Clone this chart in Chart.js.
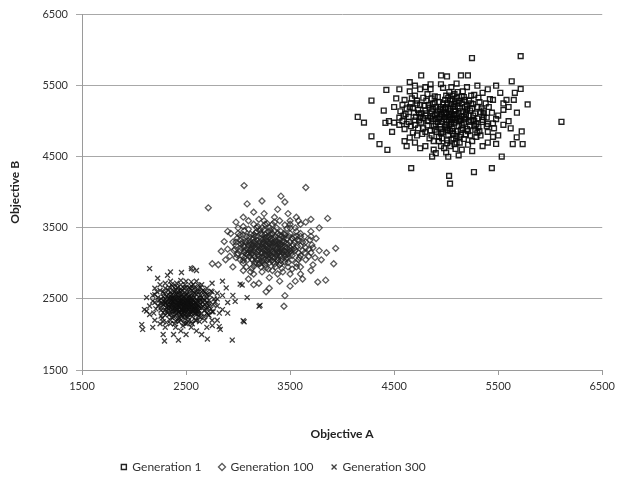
<!DOCTYPE html>
<html lang="en">
<head>
<meta charset="UTF-8">
<title>Objective A vs Objective B</title>
<style>
  body { margin: 0; background: #fff; }
  canvas { display: block; }
</style>
</head>
<body>
<canvas id="myChart" width="620" height="483"></canvas>
<script src="https://cdn.jsdelivr.net/npm/chart.js"></script>
<script>
// tick values shared by both axes
var axisTicks = [1500, 2500, 3500, 4500, 5500, 6500];

var seriesNames = ['Generation 1', 'Generation 100', 'Generation 300'];

// [objective A, objective B]
var gen1 = [
  [5248,5889],[5716,5916],[6108,4992],[4282,5291],[4282,4788],[4359,4679],[4435,4598],[4416,4978],[4425,5440],[4664,4340],
  [5037,4122],[5028,4231],[5267,4285],[4865,4503],[5783,5236],[5630,5562],[5716,5454],[5726,4856],[5735,4679],[5678,4774],
  [5640,4679],[5534,4503],[5439,4340],[4150,5060],[4210,4980],[4760,5644],[4951,5644],[5008,5630],[5142,5644],[5209,5644],
  [4980,5120],[5050,4960],[5110,5210],[4870,5030],[5200,4890],[5020,5330],[4930,4780],[5150,5070],[5080,5150],[4760,5110],
  [5260,5020],[5010,4870],[4890,5260],[5130,4700],[5340,5180],[4700,4950],[5060,5040],[4960,4990],[5180,5300],[5040,4650],
  [4820,5380],[5290,4780],[5120,4930],[4910,5110],[5000,5200],[5230,5150],[4850,4870],[5070,4820],[5160,5420],[4790,5220],
  [5400,4960],[4640,5060],[5090,5280],[4950,4890],[5030,5090],[5310,5330],[4880,4720],[5140,5010],[4720,5290],[5210,4670],
  [5000,4560],[5360,5060],[4600,4890],[5080,5380],[4940,5170],[5190,4810],[5050,5240],[4830,5000],[5270,4930],[4990,5060],
  [5120,5120],[4680,5180],[5440,5120],[5010,4730],[4920,5340],[5170,4980],[4770,4820],[5240,5250],[5060,4900],[4860,5140],
  [5320,4860],[4970,5250],[5100,4790],[4740,5010],[5150,5350],[4900,4960],[5030,5410],[5380,5250],[4650,4770],[5220,5080],
  [5000,5010],[4810,5290],[5090,4610],[5280,5110],[4950,4650],[5130,5180],[4700,5360],[5460,4900],[5040,5140],[4880,4930],
  [5180,5030],[5020,4810],[4560,5140],[5250,4720],[4990,5300],[5110,5050],[4800,5080],[5350,4990],[4930,5040],[5070,5200],
  [4620,4960],[5200,5220],[5050,4740],[4840,5190],[5300,5040],[5000,5110],[4730,4900],[5140,4880],[4970,5470],[5410,5200],
  [5080,4980],[4870,5070],[5230,4940],[4910,4850],[5060,5310],[4690,5120],[5160,5140],[4950,5200],[5330,4800],[4780,5040],
  [5100,4700],[5020,5170],[4580,5000],[5270,5370],[4860,4800],[5120,5260],[4990,4920],[5190,5090],[4750,5230],[5390,4930],
  [5040,5060],[4820,4940],[5240,5010],[4930,4720],[5080,5090],[4660,5250],[5480,5030],[5010,5250],[5150,4950],[4800,5150],
  [5300,5200],[4960,5080],[5110,4860],[4710,5060],[5220,5290],[5050,4990],[4890,5350],[5360,5110],[4940,4940],[5170,4750],
  [4620,5180],[5090,5140],[4840,4760],[5260,5080],[5000,5360],[4760,4980],[5130,5030],[4920,5150],[5310,4920],[5060,4860],
  [4680,4840],[5200,5170],[4980,5030],[5420,5310],[4870,5240],[5140,4810],[5030,4940],[4730,5160],[5280,4880],[4950,5100],
  [5100,5330],[4640,4990],[5350,5020],[5010,4690],[4900,5030],[5180,5200],[4810,5110],[5070,4760],[5250,5180],[4970,4850],
  [4590,5080],[5120,5000],[4860,5320],[5330,5130],[5040,5180],[4780,4900],[5160,4900],[4930,5270],[5500,5080],[5060,5020],
  [4700,5010],[5210,4860],[4990,5180],[5110,5410],[4850,5050],[5290,4960],[4960,4760],[5080,5240],[4670,5320],[5390,5050],
  [5020,5060],[4890,4880],[5150,5250],[4750,5060],[5230,4800],[5040,5290],[4920,4990],[5320,5270],[4800,4850],[5100,5100],
  [4610,5100],[5270,5000],[4980,4620],[5170,5340],[4870,5170],[5450,4970],[5050,5100],[4720,4800],[5190,5120],[4940,5060],
  [5360,5150],[5010,4900],[4830,5230],[5130,4780],[4550,4950],[5240,5360],[4970,5160],[5080,4680],[4780,5330],[5300,4840],
  [5030,5020],[4900,5200],[5550,5160],[5170,5060],[4660,4930],[5060,5360],[4950,4830],[5220,4990],[4820,5010],[5120,5290],
  [5000,4950],[5400,4850],[4740,5110],[5090,5020],[4890,5090],[5260,5240],[5040,4860],[4500,5200],[4480,4850],[4520,5320],
  [5600,5000],[5580,5300],[5620,4900],[4550,5450],[4600,4720],[5480,4680],[5520,5400],[4700,5500],[5300,5500],[5400,5450],
  [4850,5520],[5100,5530],[4900,4550],[5150,4600],[4750,4620],[5350,4650],[4450,5000],[5680,5120],[5660,5400],[4400,5150],
  [4650,5420],[4600,5300],[4650,5550],[4700,4700],[4750,5450],[4800,4650],[4850,5450],[4950,5520],[5050,5480],[5200,5480],
  [5250,4580],[5350,5400],[5450,5300],[5500,4800],[5550,4950],[5600,5200],[5450,4780],[4550,5050],[4500,4980],[4620,4650],
  [4880,4600],[5020,4500],[5120,4520],[5400,4700],[5550,5250],[4650,5200],[4720,5250],[4580,5230],[5650,5300],[5480,5500],
  [4800,5480]
];

var gen100 = [
  [3058,4095],[3651,4068],[2714,3782],[3087,3837],[3230,3878],[3412,3946],[3450,3864],[3938,3212],[3919,2995],[3842,2764],
  [3766,2737],[2752,2995],[2810,2981],[3450,2546],[3441,2397],[3269,2600],[2838,3171],[2867,3307],[3861,3633],[2561,2927],
  [3300,3200],[3350,3150],[3250,3280],[3400,3250],[3200,3180],[3320,3350],[3450,3100],[3150,3300],[3380,3050],[3280,3120],
  [3500,3300],[3220,3420],[3360,3230],[3100,3150],[3420,3380],[3180,3050],[3300,3500],[3550,3180],[3260,2980],[3470,3220],
  [3050,3250],[3330,3280],[3390,3160],[3240,3340],[3150,3120],[3520,3050],[3290,3060],[3410,3450],[3200,3250],[3360,2950],
  [3080,3380],[3600,3250],[3270,3190],[3440,3300],[3130,3220],[3310,3410],[3480,3130],[3230,3090],[3370,3310],[3020,3180],
  [3560,3380],[3180,3450],[3340,3020],[3260,3250],[3420,3170],[3110,3290],[3300,3130],[3500,3420],[3190,3160],[3380,3270],
  [3060,3080],[3280,3380],[3450,3020],[3210,3310],[3640,3150],[3330,3090],[3150,3400],[3400,3200],[3250,3050],[3530,3260],
  [3090,3200],[3360,3380],[3290,2920],[3470,3350],[3170,3270],[3310,3180],[3020,3330],[3590,3080],[3240,3200],[3410,3100],
  [3130,3060],[3350,3460],[3200,2990],[3490,3190],[3270,3320],[3080,3140],[3380,3220],[3570,3330],[3150,3350],[3320,3040],
  [3440,3420],[3220,3140],[2980,3250],[3510,3140],[3300,3280],[3190,3520],[3400,2980],[3260,3130],[3620,3300],[3120,3180],
  [3350,3300],[3460,3060],[3230,3400],[3040,3100],[3380,3150],[3280,3230],[3540,3210],[3160,3000],[3330,3550],[3420,3270],
  [3210,3210],[3070,3310],[3490,3380],[3300,3010],[3140,3250],[3370,3120],[3580,3150],[3250,3470],[3440,3180],[3110,3100],
  [3320,3320],[3000,3140],[3520,3350],[3230,3040],[3400,3340],[3180,3330],[3650,3220],[3290,3160],[3060,3230],[3460,3280],
  [3200,3100],[3340,3240],[3120,3410],[3560,3000],[3270,3360],[3410,3040],[3150,3180],[3380,3420],[2950,3300],[3500,3220],
  [3220,2950],[3310,3270],[3090,3050],[3600,3380],[3250,3180],[3430,3140],[3170,3380],[3350,3080],[3030,3270],[3470,3490],
  [3280,3110],[3130,3150],[3390,3300],[3680,3100],[3200,3280],[3330,3180],[3050,3400],[3450,3240],[3240,3010],[3520,3110],
  [3160,3220],[3370,3500],[3290,3290],[2990,3120],[3420,2930],[3230,3270],[3570,3240],[3100,3320],[3340,3140],[3260,3410],
  [3480,3010],[3140,3050],[3310,3460],[3620,3180],[3190,3120],[3400,3160],[3070,3180],[3360,3320],[3210,3470],[3540,3300],
  [3280,3040],[3120,3260],[3440,3360],[3250,3220],[3710,3260],[2970,3200],[3380,3080],[3160,3310],[3500,3170],[3300,3370],
  [3050,3040],[3420,3200],[3230,3150],[3590,3320],[3180,3000],[3330,3420],[3100,3250],[3460,3120],[3270,3270],[3020,3400],
  [3400,3400],[3740,3080],[3220,3350],[3350,2990],[3130,3130],[3480,3270],[3300,3080],[3560,3450],[3190,3240],[3410,3000],
  [3260,3550],[3080,3300],[3370,3190],[2920,3100],[3640,3380],[3240,3300],[3450,3170],[3150,2960],[3320,3230],[3520,3190],
  [3060,3160],[3290,3450],[3400,3120],[3200,3060],[3780,3180],[3350,3350],[3110,3370],[3470,3080],[3250,3120],[3030,3220],
  [3580,3050],[3310,3300],[3170,3430],[3430,3320],[3270,2940],[3690,3330],[3140,3270],[3380,3040],[3230,3230],[3500,3500],
  [3090,3120],[3330,3160],[3420,3230],[3180,3200],[3600,3110],[2990,3350],[3280,3180],[3450,3400],[3210,3000],[3360,3270],
  [3120,3200],[3540,3370],[3260,3360],[3040,3300],[3400,3280],[3160,3090],[3720,3220],[3320,3110],[3230,3500],[3470,3160],
  [2900,3450],[2880,3050],[3000,3500],[3100,3600],[3200,3620],[3350,3650],[3500,3600],[3600,3550],[3700,3450],[3750,3350],
  [3800,3050],[3700,2900],[3600,2850],[3500,2850],[3300,2800],[3150,2850],[3050,2900],[2950,2950],[2900,3200],[3400,2750],
  [3550,2750],[3200,2720],[3650,3580],[2980,3580],[3780,3500],[3850,3150],[3720,2980],[3100,2780],[3250,3700],[3480,3700],
  [3560,3650],[3050,3650],[3150,3720],[3380,3760],[3620,2780],[3700,3620],[2930,3420],[3300,2650],[3150,2700],[3500,2680],
  [3000,3420],[3050,3520],[3100,3480],[3150,3550],[3250,3600],[3350,3580],[3450,3540],[3550,3500],[3600,3420],[3650,3300],
  [3680,3200],[3650,3050],[3600,2950],[3520,2920],[3430,2880],[3330,2900],[3230,2880],[3130,2930],[3050,3000],[2980,3080],
  [2960,3180],[2980,3300],[3060,3460],[3500,3550],[3700,3380],[3560,2950],[3120,2880],[3400,3600],[3280,3560],[3180,3500],
  [3020,3050],[3700,3150],[3580,3600],[3080,2950],[3380,2850],[3480,2950]
];

var gen300 = [
  [2150,2927],[2552,2927],[2074,2139],[2083,2071],[2293,1908],[2427,1921],[2705,1935],[2944,1921],[3049,2193],[3211,2410],
  [3087,2519],[2972,2465],[2819,2111],[2121,2329],[2121,2519],[2227,2791],[2322,2832],[2456,2872],[3058,2179],[3039,2696],
  [2886,2655],[2829,2071],[2752,2125],[3202,2397],[3020,2709],[2350,2880],[2600,2900],
  [2480,2400],[2520,2350],[2420,2450],[2560,2480],[2380,2320],[2500,2550],[2600,2380],[2350,2420],[2450,2280],[2540,2420],
  [2300,2500],[2630,2470],[2470,2350],[2400,2550],[2580,2300],[2440,2480],[2520,2600],[2360,2380],[2660,2400],[2490,2220],
  [2410,2370],[2550,2520],[2320,2300],[2470,2440],[2620,2330],[2380,2480],[2530,2390],[2280,2420],[2450,2600],[2590,2440],
  [2430,2310],[2510,2470],[2700,2380],[2350,2540],[2480,2330],[2560,2250],[2400,2420],[2640,2550],[2460,2500],[2330,2360],
  [2540,2320],[2420,2220],[2500,2440],[2610,2410],[2370,2460],[2480,2650],[2570,2360],[2260,2380],[2440,2390],[2680,2480],
  [2520,2280],[2390,2600],[2460,2340],[2600,2500],[2340,2450],[2510,2410],[2430,2520],[2650,2300],[2310,2540],[2490,2370],
  [2560,2580],[2400,2270],[2550,2450],[2360,2330],[2720,2440],[2470,2480],[2580,2400],[2290,2470],[2440,2560],[2530,2350],
  [2380,2400],[2620,2600],[2460,2250],[2500,2500],[2340,2280],[2590,2340],[2420,2460],[2700,2520],[2480,2310],[2370,2520],
  [2540,2470],[2450,2420],[2630,2380],[2300,2350],[2510,2570],[2410,2340],[2570,2430],[2490,2460],[2260,2500],[2550,2300],
  [2390,2440],[2660,2460],[2440,2300],[2520,2520],[2350,2600],[2600,2280],[2470,2390],[2380,2250],[2530,2440],[2420,2580],
  [2740,2360],[2490,2340],[2320,2420],[2580,2520],[2450,2460],[2610,2320],[2360,2480],[2500,2380],[2430,2400],[2560,2620],
  [2280,2310],[2540,2380],[2400,2500],[2680,2340],[2470,2530],[2330,2400],[2590,2460],[2450,2200],[2510,2330],[2380,2550],
  [2640,2420],[2420,2350],[2550,2400],[2300,2450],[2490,2590],[2610,2470],[2360,2300],[2530,2480],[2440,2440],[2700,2300],
  [2400,2380],[2570,2340],[2480,2500],[2250,2440],[2520,2240],[2390,2490],[2630,2520],[2460,2360],[2340,2510],[2580,2380],
  [2430,2620],[2500,2300],[2650,2370],[2370,2430],[2540,2550],[2410,2290],[2600,2440],[2470,2420],[2310,2380],[2520,2460],
  [2440,2520],[2760,2420],[2490,2270],[2380,2370],[2560,2490],[2420,2410],[2620,2260],[2350,2470],[2510,2390],[2460,2560],
  [2590,2300],[2280,2530],[2540,2420],[2400,2330],[2670,2500],[2480,2440],[2360,2560],[2550,2350],[2430,2450],[2600,2560],
  [2320,2330],[2500,2420],[2450,2350],[2720,2480],[2390,2510],[2570,2470],[2470,2300],[2530,2530],[2340,2390],[2620,2400],
  [2420,2500],[2500,2250],[2260,2340],[2560,2410],[2440,2380],[2680,2420],[2380,2460],[2520,2490],[2410,2560],[2590,2360],
  [2480,2370],[2300,2430],[2550,2510],[2460,2280],[2640,2480],[2370,2350],[2510,2440],[2430,2330],[2580,2580],[2490,2410],
  [2330,2490],[2610,2350],[2450,2470],[2540,2280],[2400,2410],[2700,2440],[2470,2460],[2360,2410],[2530,2370],[2420,2440],
  [2600,2400],[2480,2530],[2310,2460],[2560,2320],
  [2200,2650],[2250,2700],[2350,2750],[2500,2750],[2650,2700],[2750,2600],[2800,2500],[2850,2350],[2800,2200],[2700,2100],
  [2600,2050],[2450,2050],[2300,2100],[2200,2200],[2150,2400],[2180,2550],[2250,2150],[2400,2100],[2550,2100],[2700,2650],
  [2850,2550],[2900,2300],[2750,2200],[2150,2280],[2200,2450],[2300,2650],[2600,2750],[2450,2700],[2350,2150],[2500,2000],
  [2650,2000],[2800,2400],[2900,2450],[2100,2350],[2400,2680],[2550,2680],[2750,2720],[2850,2750],[2950,2550],[2380,2000],
  [2280,2000],[2180,2100],
  [2220,2600],[2240,2480],[2260,2260],[2280,2180],[2300,2720],[2330,2620],[2350,2200],[2370,2680],[2390,2150],[2410,2720],
  [2430,2180],[2450,2640],[2470,2120],[2490,2700],[2510,2160],[2530,2660],[2550,2180],[2570,2700],[2590,2200],[2610,2640],
  [2630,2180],[2650,2600],[2670,2250],[2690,2580],[2710,2280],[2730,2550],[2750,2320],[2770,2500],[2210,2360],[2230,2520],
  [2250,2620],[2270,2230],[2290,2580],[2310,2170],[2340,2660],[2360,2240],[2380,2620],[2400,2190],[2420,2660],[2440,2230],
  [2460,2620],[2480,2160],[2500,2660],[2520,2190],[2540,2640],[2560,2150],[2580,2660],[2600,2200],[2620,2690],[2640,2240],
  [2660,2620],[2680,2200],[2700,2560],[2720,2270],[2740,2610],[2760,2320],[2780,2460],[2800,2580],[2820,2300],[2180,2470],
  [2190,2300],[2200,2560],[2650,2520],[2620,2290],[2330,2560],[2300,2270],[2270,2440],[2720,2400],[2680,2600],[2360,2700],
  [2550,2740],[2450,2760],[2600,2600],[2350,2500],[2700,2350],[2280,2600],[2500,2150],[2400,2630],[2640,2660],[2230,2400]
];

function toPoints(arr) {
  return arr.map(function (p) { return { x: p[0], y: p[1] }; });
}

var fontFamily = 'Lato, "Liberation Sans", sans-serif';

// nudge the bottom legend left, like the original
var legendShift = {
  id: 'legendShift',
  afterLayout: function (chart) {
    chart.legend.left -= 29;
    chart.legend.right -= 29;
  }
};

var config = {
  type: 'scatter',
  data: {
    datasets: [{
      label: seriesNames[0],
      data: toPoints(gen1),
      pointStyle: 'rect',
      pointRadius: 3.4,
      borderWidth: 1.4,
      borderColor: 'rgba(10,10,10,0.9)',
      backgroundColor: 'rgba(255,255,255,0)'
    }, {
      label: seriesNames[1],
      data: toPoints(gen100),
      pointStyle: 'rectRot',
      pointRadius: 3,
      borderWidth: 1.3,
      borderColor: 'rgba(35,35,35,0.75)',
      backgroundColor: 'rgba(255,255,255,0)'
    }, {
      label: seriesNames[2],
      data: toPoints(gen300),
      pointStyle: 'crossRot',
      pointRadius: 3.5,
      borderWidth: 1.3,
      borderColor: 'rgba(15,15,15,0.8)',
      backgroundColor: 'rgba(255,255,255,0)'
    }]
  },
  options: {
    responsive: false,
    animation: false,
    layout: { padding: { top: 10, right: 15, left: 0, bottom: 0 } },
    scales: {
      x: {
        type: 'linear',
        min: axisTicks[0],
        max: axisTicks[axisTicks.length - 1],
        afterBuildTicks: function (scale) {
          scale.ticks = axisTicks.map(function (v) { return { value: v }; });
        },
        afterFit: function (scale) { scale.height = 73; },
        grid: { drawOnChartArea: false, tickLength: 5, color: '#9a9a9a' },
        border: { color: '#9a9a9a' },
        ticks: {
          color: '#333', padding: 5, maxRotation: 0,
          font: { family: fontFamily, size: 11 },
          callback: function (v) { return String(v); }
        },
        title: {
          display: true,
          text: 'Objective A',
          color: '#222',
          padding: { top: 4, bottom: 2 },
          font: { family: fontFamily, size: 12, weight: 'bold' }
        }
      },
      y: {
        type: 'linear',
        min: axisTicks[0],
        max: axisTicks[axisTicks.length - 1],
        afterBuildTicks: function (scale) {
          scale.ticks = axisTicks.map(function (v) { return { value: v }; });
        },
        afterFit: function (scale) { scale.width = 82; },
        grid: { color: '#a8a8a8', tickLength: 6 },
        border: { color: '#9a9a9a' },
        ticks: {
          color: '#333', padding: 8,
          font: { family: fontFamily, size: 11 },
          callback: function (v) { return String(v); }
        },
        title: {
          display: true,
          text: 'Objective B',
          color: '#222',
          padding: { top: 8, bottom: 0 },
          font: { family: fontFamily, size: 12, weight: 'bold' }
        }
      }
    },
    plugins: {
      tooltip: { enabled: false },
      legend: {
        position: 'bottom',
        labels: {
          usePointStyle: true,
          boxWidth: 5,
          boxHeight: 5,
          padding: 18,
          color: '#333',
          font: { family: fontFamily, size: 12 }
        }
      }
    }
  },
  plugins: [legendShift]
};

var ctx = document.getElementById('myChart').getContext('2d');
var chart = new Chart(ctx, config);
</script>
</body>
</html>
